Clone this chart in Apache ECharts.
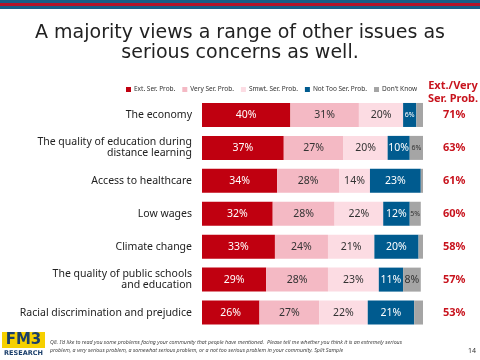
<!DOCTYPE html>
<html><head><meta charset="utf-8">
<script src="https://cdn.jsdelivr.net/npm/echarts@6/dist/echarts.min.js"></script>
<style>html,body{margin:0;padding:0;background:#fff}#c{width:480px;height:360px}</style>
</head><body><div id="c"></div>
<script>
const categories = ["The economy","The quality of education during\ndistance learning","Access to healthcare","Low wages","Climate change","The quality of public schools\nand education","Racial discrimination and prejudice"];
const seriesNames = ["Ext. Ser. Prob.","Very Ser. Prob.","Smwt. Ser. Prob.","Not Too Ser. Prob.","Don't Know"];
const extSer   = [40,37,34,32,33,29,26];
const verySer  = [31,27,28,28,24,28,27];
const smwtSer  = [20,20,14,22,21,23,22];
const notToo   = [6,10,23,12,20,11,21];
const dontKnow = [3,6,1,5,2,8,4];
const extVery  = [71,63,61,60,58,57,53];
const totalHeader = "Ext./Very\nSer. Prob.";

const colors = ["#c00010","#f4b9c4","#fcdce3","#005b8f","#a5a5a5"];
const labelColors = ["#fff","#333","#333","#fff","#333"];
const values = [extSer, verySer, smwtSer, notToo, dontKnow];

const chart = echarts.init(document.getElementById('c'), null, {renderer:'canvas'});
const series = values.map((arr,i)=>({
  name: seriesNames[i], type:'bar', stack:'t', barWidth:24,
  itemStyle:{color:colors[i]},
  data: arr.map(v=>({value:v, label:{show: v>=5, fontSize: v<7 ? 7 : 10.5}})),
  label:{position:'inside', color:labelColors[i], fontFamily:'Noto Sans', formatter: p=>p.value+'%'}
}));
chart.setOption({
  animation:false,
  title:{text:"A majority views a range of other issues as\nserious concerns as well.", left:'center', top:18,
    textStyle:{fontFamily:'DejaVu Sans', fontWeight:'normal', fontSize:19, color:'#222', lineHeight:20}},
  legend:{data:seriesNames, top:81, left:121, itemWidth:5, itemHeight:5, itemGap:7, icon:'rect',
    textStyle:{fontSize:6.5, fontFamily:'Noto Sans', color:'#333', padding:[0,0,0,-2]}},
  grid:{left:202, right:57, top:98.5, bottom:31, containLabel:false},
  xAxis:{type:'value', min:0, max:100, show:false},
  yAxis:[{type:'category', inverse:true, data:categories, axisLine:{show:false}, axisTick:{show:false},
    axisLabel:{fontSize:10.5, color:'#222', fontFamily:'Noto Sans', lineHeight:11, margin:10}},
    {type:'category', inverse:true, position:'right', data:extVery.map(v=>v+'%'), axisLine:{show:false}, axisTick:{show:false},
    axisLabel:{fontSize:11, fontWeight:'bold', color:'#c8141e', fontFamily:'Noto Sans', margin:20}}],
  series: series,
  graphic:[
    {type:'rect', shape:{x:0,y:0,width:480,height:9}, style:{fill:'#135f88'}},
    {type:'rect', shape:{x:0,y:3,width:480,height:3}, style:{fill:'#b0142a'}},
    {type:'text', x:453, y:79, style:{text:totalHeader, fill:'#c8141e', font:'bold 11px "Noto Sans"', align:'center', lineHeight:13}},
    {type:'rect', shape:{x:2,y:332,width:43,height:16}, style:{fill:'#f6d000'}},
    {type:'text', x:23.5, y:333, style:{text:'FM3', fill:'#1b3f6b', font:'bold 15px "DejaVu Sans"', align:'center'}},
    {type:'text', x:23.5, y:350, style:{text:'RESEARCH', fill:'#1b3f6b', font:'bold 6.5px "DejaVu Sans"', align:'center'}},
    {type:'text', x:50, y:338, style:{text:"Q8. I'd like to read you some problems facing your community that people have mentioned.  Please tell me whether you think it is an extremely serious\nproblem, a very serious problem, a somewhat serious problem, or a not too serious problem in your community. Split Sample", fill:'#444', font:'italic 5.3px "Noto Sans"', lineHeight:8}},
    {type:'text', x:468, y:347, style:{text:'14', fill:'#333', font:'7px "Noto Sans"'}}
  ]
});
</script></body></html>
